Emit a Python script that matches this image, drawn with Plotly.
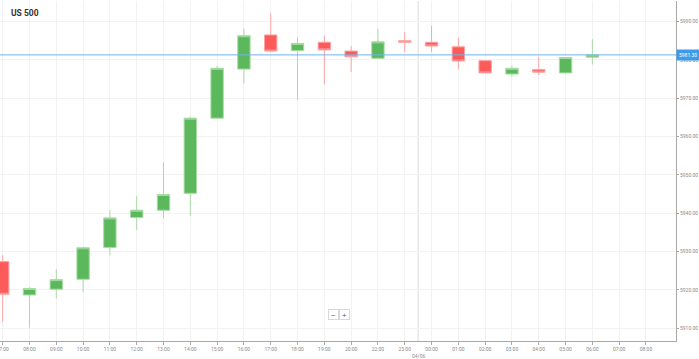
import plotly.graph_objects as go

# ---- data ----
categories = [
    "03/06 07:00", "03/06 08:00", "03/06 09:00", "03/06 10:00", "03/06 11:00",
    "03/06 12:00", "03/06 13:00", "03/06 14:00", "03/06 15:00", "03/06 16:00",
    "03/06 17:00", "03/06 18:00", "03/06 19:00", "03/06 20:00", "03/06 22:00",
    "03/06 23:00", "04/06 00:00", "04/06 01:00", "04/06 02:00", "04/06 03:00",
    "04/06 04:00", "04/06 05:00", "04/06 06:00", "04/06 07:00", "04/06 08:00",
]
tick_labels = [
    "07:00", "08:00", "09:00", "10:00", "11:00", "12:00", "13:00", "14:00",
    "15:00", "16:00", "17:00", "18:00", "19:00", "20:00", "22:00", "23:00",
    "00:00", "01:00", "02:00", "03:00", "04:00", "05:00", "06:00", "07:00", "08:00",
]
candle_times = categories[:23]
open_ = [5927.4, 5918.7, 5920.2, 5922.8, 5931.1, 5938.9, 5940.8, 5945.2, 5964.8,
         5977.6, 5986.5, 5982.4, 5984.6, 5982.3, 5980.4, 5985.0, 5984.6, 5983.4,
         5979.8, 5976.3, 5977.5, 5976.6, 5980.7]
high = [5929.1, 5920.7, 5925.4, 5931.3, 5940.8, 5944.5, 5953.3, 5965.2, 5978.4,
        5988.1, 5992.1, 5985.8, 5986.3, 5983.6, 5988.1, 5987.3, 5988.9, 5985.8,
        5979.9, 5978.5, 5980.8, 5980.7, 5985.4]
low = [5911.7, 5910.2, 5917.8, 5919.4, 5929.1, 5935.6, 5938.7, 5939.3, 5964.8,
       5973.9, 5982.0, 5969.5, 5973.6, 5976.8, 5980.4, 5982.0, 5982.0, 5977.6,
       5976.6, 5975.6, 5976.0, 5976.5, 5978.8]
close = [5918.9, 5920.4, 5922.7, 5931.0, 5938.8, 5940.8, 5944.9, 5964.8, 5977.8,
         5986.3, 5982.3, 5984.3, 5982.6, 5980.8, 5984.7, 5984.6, 5983.6, 5979.7,
         5976.6, 5977.8, 5976.8, 5980.6, 5981.3]
title = "US 500"
day_label = "04/06"

GREEN = "#5cb85c"
GREEN_LINE = "#a9dba3"
RED = "#fd5a5a"
RED_LINE = "#ffa3a3"
GRID = "#f2f2f2"
AXIS = "#a8a8a8"
TICKFONT = dict(family="Roboto, Arial, sans-serif", size=5, color="#8a8a8a")

fig = go.Figure()
fig.add_trace(go.Candlestick(
    x=candle_times, open=open_, high=high, low=low, close=close,
    increasing=dict(fillcolor=GREEN, line=dict(color=GREEN_LINE, width=1)),
    decreasing=dict(fillcolor=RED, line=dict(color=RED_LINE, width=1)),
    whiskerwidth=0, hoverinfo="skip", showlegend=False,
))

last = close[-1]
day_idx = categories.index("04/06 00:00") - 0.5

fig.update_layout(
    width=699, height=359,
    margin=dict(l=0, r=23, t=1, b=18, autoexpand=False),
    paper_bgcolor="white", plot_bgcolor="white",
    boxgap=0.34,
    xaxis=dict(
        type="category", categoryorder="array", categoryarray=categories,
        tickvals=categories, ticktext=tick_labels,
        range=[-0.1, len(categories) + 0.12],
        rangeslider=dict(visible=False), automargin=False,
        showgrid=True, gridcolor=GRID, gridwidth=1,
        showline=True, linecolor=AXIS, linewidth=1,
        ticks="outside", ticklen=3, tickcolor=AXIS,
        tickfont=TICKFONT, zeroline=False,
    ),
    yaxis=dict(
        side="right", range=[5906.7, 5995.35], automargin=False,
        tick0=5910, dtick=10, tickformat=".2f",
        showgrid=True, gridcolor=GRID, gridwidth=1,
        showline=True, linecolor=AXIS, linewidth=1,
        ticks="outside", ticklen=2, tickcolor=AXIS,
        tickfont=TICKFONT, zeroline=False,
    ),
    shapes=[
        dict(type="line", xref="x", yref="paper", x0=day_idx, x1=day_idx, y0=0, y1=1,
             line=dict(color="#dcdcdc", width=1), layer="below"),
        dict(type="line", xref="paper", yref="y", x0=0, x1=1, y0=last, y1=last,
             line=dict(color="#6cb4ee", width=1)),
    ],
    annotations=[
        dict(text="<b>" + title + "</b>", xref="paper", yref="paper", x=0, y=1,
             xanchor="left", yanchor="top", xshift=9, yshift=-5, showarrow=False,
             font=dict(family="Roboto, Arial, sans-serif", size=8.5, color="#333333")),
        dict(text=day_label, xref="x", yref="paper", x=day_idx, y=0, yanchor="top",
             yshift=-10, showarrow=False, font=TICKFONT),
        dict(text=f"{last:.2f}", xref="paper", yref="y", x=1, y=last, xanchor="left",
             xshift=0, showarrow=False, bgcolor="#3d9be9", borderpad=2,
             font=dict(family="Roboto, Arial, sans-serif", size=5, color="white")),
        dict(text="−", xref="paper", yref="paper", x=0.493, y=0.062, showarrow=False,
             bgcolor="white", bordercolor="#d8d8d8", borderwidth=1, borderpad=0,
             width=9, height=9, font=dict(size=8, color="#555")),
        dict(text="+", xref="paper", yref="paper", x=0.509, y=0.062, showarrow=False,
             bgcolor="white", bordercolor="#d8d8d8", borderwidth=1, borderpad=0,
             width=9, height=9, font=dict(size=8, color="#555")),
    ],
)

fig.write_html("out.html", config={"displayModeBar": False},
               post_script="document.body.style.margin='0';")
